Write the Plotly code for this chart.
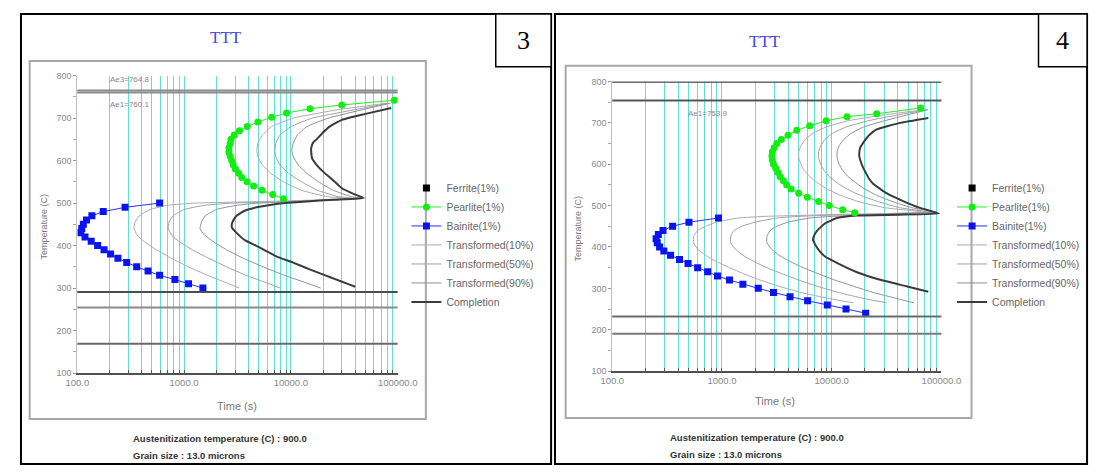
import plotly.graph_objects as go

# page offset produced by the default 8px body margin of the html page
OFF = 8
W, H = 1109 - OFF, 471 - OFF

# ---------------- Panel 3 data ----------------
pearlite_T_3 = [742, 731, 722, 712, 702, 691, 680, 670, 660, 650, 640, 630, 620, 610, 600, 590, 580, 570, 560, 550, 540, 530, 520, 510]
pearlite_t_3 = [93000, 30000, 15100, 9100, 6600, 4900, 3900, 3300, 2950, 2750, 2700, 2630, 2630, 2700, 2790, 2880, 3020, 3240, 3470, 3890, 4470, 5370, 6760, 8510]

bainite_T_3 = [500, 490, 480, 470, 460, 450, 440, 430, 420, 410, 400, 390, 380, 370, 360, 350, 340, 330, 320, 310, 300]
bainite_t_3 = [590, 280, 175, 137, 122, 114, 110, 108, 118, 135, 155, 178, 205, 240, 290, 360, 460, 590, 820, 1100, 1500]

trans_T_3 = [735, 720, 700, 680, 660, 640, 625, 610, 590, 570, 550, 530, 515, 511, 507, 503, 500, 495, 485, 470, 455, 440, 425, 410, 390, 370, 350, 330, 310, 300]
trans10_t_3 = [79000, 28000, 10500, 6600, 5400, 4900, 4800, 4900, 5400, 6500, 8500, 12600, 22000, 35000, 16000, 4000, 1260, 710, 480, 380, 347, 340, 363, 420, 550, 760, 1100, 1660, 2630, 3300]
trans50_t_3 = [82000, 40000, 15800, 10000, 7900, 7200, 7100, 7200, 7900, 9500, 12600, 17800, 28000, 40000, 20000, 7900, 2800, 1580, 1000, 790, 720, 710, 760, 890, 1200, 1700, 2500, 3800, 6300, 7900]
trans90_t_3 = [85000, 47000, 22400, 14100, 11500, 10500, 10200, 10500, 11700, 14100, 18200, 25000, 37000, 45000, 22400, 10000, 5000, 3160, 2000, 1580, 1450, 1410, 1550, 1860, 2500, 3600, 5500, 8700, 14800, 19000]

complete_T_3 = [724, 710, 696, 680, 666, 650, 643, 630, 620, 605, 590, 574, 555, 535, 520, 512, 508, 504, 500, 496, 490, 482, 470, 460, 450, 443, 430, 413, 400, 390, 374, 360, 344, 330, 321, 310, 303]
complete_t_3 = [87000, 50000, 30000, 23000, 20000, 17400, 16200, 15500, 15500, 15800, 17400, 20000, 24500, 30000, 40000, 48000, 25000, 14000, 8900, 6600, 4800, 3700, 3100, 2900, 2800, 2800, 3100, 3700, 4700, 5600, 7400, 10500, 15000, 21000, 26000, 34000, 40000]

hlines_3 = [764.8, 760.1, 291.0, 254.0, 169.0]
hline_colors_3 = ["#8c8c8c", "#8c8c8c", "#4d4d4d", "#8a8a8a", "#6a6a6a"]
hline_labels_3 = ["Ae3=764.8", "Ae1=760.1"]

# ---------------- Panel 4 data ----------------
pearlite_T_4 = [736, 722, 715, 705, 693, 682, 670, 660, 650, 640, 630, 620, 610, 600, 590, 580, 570, 560, 550, 540, 530, 520, 510, 500, 490, 483]
pearlite_t_4 = [64600, 25700, 13800, 8900, 6300, 4800, 4000, 3470, 3160, 2990, 2880, 2850, 2880, 2950, 3090, 3240, 3390, 3630, 3890, 4270, 5000, 6000, 7600, 9500, 12600, 16200]

bainite_T_4 = [470, 460, 450, 440, 430, 420, 410, 400, 390, 380, 370, 360, 350, 340, 330, 320, 310, 300, 290, 280, 270, 260, 250, 240]
bainite_t_4 = [930, 500, 355, 290, 263, 251, 257, 270, 295, 340, 410, 490, 600, 740, 910, 1170, 1550, 2140, 2950, 4170, 6030, 9120, 13500, 20400]

trans_T_4 = [732, 720, 705, 690, 675, 660, 645, 630, 615, 600, 585, 570, 555, 540, 525, 510, 495, 484, 480, 477, 474, 470, 460, 450, 440, 425, 410, 395, 380, 365, 350, 335, 320, 305, 290, 275, 265]
trans10_t_4 = [70800, 31600, 14100, 8900, 6760, 5750, 5250, 5010, 5010, 5250, 5620, 6310, 7410, 9120, 12000, 17400, 30200, 70800, 20000, 6300, 2500, 1410, 890, 710, 600, 550, 550, 600, 710, 890, 1170, 1580, 2240, 3310, 5250, 9550, 15800]
trans50_t_4 = [74100, 41700, 21400, 13500, 10200, 8700, 7940, 7590, 7590, 7940, 8510, 9550, 11200, 13800, 18200, 26300, 41700, 79400, 28200, 10000, 5010, 3160, 2000, 1510, 1290, 1200, 1200, 1320, 1550, 1950, 2570, 3550, 5010, 7410, 11500, 20000, 31600]
trans90_t_4 = [75900, 50100, 30200, 19500, 15100, 12900, 11700, 11200, 11200, 11700, 12600, 14100, 16600, 20000, 25700, 35500, 53700, 89100, 39800, 20000, 10000, 6310, 3980, 3160, 2750, 2570, 2570, 2820, 3310, 4170, 5500, 7590, 10700, 15800, 24000, 39800, 56200]

complete_T_4 = [712, 700, 684, 670, 653, 640, 623, 610, 595, 580, 565, 552, 530, 511, 495, 481, 478, 476, 470, 457, 440, 427, 417, 405, 390, 377, 360, 339, 320, 305, 292]
complete_t_4 = [76000, 42000, 25700, 21900, 19500, 18200, 17800, 18200, 19100, 20400, 21900, 24000, 31600, 44700, 63000, 95000, 40700, 17000, 11200, 8700, 7400, 6900, 6760, 7100, 7760, 8700, 11500, 17000, 28200, 47900, 76000]

hlines_4 = [799.0, 753.9, 232.0, 190.0]
hline_colors_4 = ["#6a6a6a", "#555555", "#6a6a6a", "#7a7a7a"]
hline_labels_4 = ["Ae1=753.9"]

# ---------------- shared ----------------
decade_labels = {100: "100.0", 1000: "1000.0", 10000: "10000.0", 100000: "100000.0"}
y_tick_vals = [100, 200, 300, 400, 500, 600, 700, 800]
legend_names = ["Ferrite(1%)", "Pearlite(1%)", "Bainite(1%)", "Transformed(10%)",
                "Transformed(50%)", "Transformed(90%)", "Completion"]
footer_lines = ["Austenitization temperature (C) : 900.0", "Grain size : 13.0 microns"]
panel_numbers = ["3", "4"]

# log-axis grid positions (1..9 x each decade) with labels at decades only
grid_vals = [d * 10 ** e for e in range(2, 5) for d in range(1, 10)] + [100000]
grid_text = [decade_labels.get(v, "") for v in grid_vals]

GRID = "rgba(60,215,200,0.8)"


def px(x):
    """page pixel x -> paper fraction"""
    return (x - OFF) / W


def py(y):
    """page pixel y -> paper fraction"""
    return 1 - (y - OFF) / H


fig = go.Figure()

panels = [
    dict(xa="x", ya="y", leg="legend",
         pT=pearlite_T_3, pt=pearlite_t_3, bT=bainite_T_3, bt=bainite_t_3,
         tT=trans_T_3, t10=trans10_t_3, t50=trans50_t_3, t90=trans90_t_3,
         cT=complete_T_3, ct=complete_t_3),
    dict(xa="x2", ya="y2", leg="legend2",
         pT=pearlite_T_4, pt=pearlite_t_4, bT=bainite_T_4, bt=bainite_t_4,
         tT=trans_T_4, t10=trans10_t_4, t50=trans50_t_4, t90=trans90_t_4,
         cT=complete_T_4, ct=complete_t_4),
]

for p in panels:
    common = dict(xaxis=p["xa"], yaxis=p["ya"], legend=p["leg"])
    for name, tt, col, rank in [
        (legend_names[3], p["t10"], "#a9a9b8", 4),
        (legend_names[4], p["t50"], "#a0a0a0", 5),
        (legend_names[5], p["t90"], "#8e8e9a", 6),
    ]:
        fig.add_trace(go.Scatter(x=tt, y=p["tT"], mode="lines", name=name,
                                 line=dict(color=col, width=1, shape="spline", smoothing=0.4),
                                 legendrank=rank, **common))
    fig.add_trace(go.Scatter(x=p["ct"], y=p["cT"], mode="lines", name=legend_names[6],
                             line=dict(color="#3a3a3a", width=2, shape="spline", smoothing=0.4),
                             legendrank=7, **common))
    fig.add_trace(go.Scatter(x=[None], y=[None], mode="markers", name=legend_names[0],
                             marker=dict(color="black", size=7, symbol="square"),
                             legendrank=1, **common))
    fig.add_trace(go.Scatter(x=p["pt"], y=p["pT"], mode="lines+markers", name=legend_names[1],
                             line=dict(color="#22ee22", width=1),
                             marker=dict(color="#11ee11", size=7, symbol="circle"),
                             legendrank=2, **common))
    fig.add_trace(go.Scatter(x=p["bt"], y=p["bT"], mode="lines+markers", name=legend_names[2],
                             line=dict(color="#2233ff", width=1),
                             marker=dict(color="#0a14f0", size=7, symbol="square"),
                             legendrank=3, **common))

shapes = []
annotations = []

# reference horizontal lines (positions in data units on the y axis)
for vals, cols, xref, yref in [(hlines_3, hline_colors_3, "x domain", "y"),
                               (hlines_4, hline_colors_4, "x2 domain", "y2")]:
    for v, c in zip(vals, cols):
        shapes.append(dict(type="line", xref=xref, yref=yref, x0=0, x1=1, y0=v, y1=v,
                           line=dict(color=c, width=2)))

lab_font = dict(size=8, color="#888888", family="Arial")
annotations.append(dict(xref="x domain", yref="y", x=0.164, y=hlines_3[0], yshift=11,
                        xanchor="center", yanchor="middle",
                        text=hline_labels_3[0], showarrow=False, font=lab_font))
annotations.append(dict(xref="x domain", yref="y", x=0.164, y=hlines_3[1], yshift=-12,
                        xanchor="center", yanchor="middle",
                        text=hline_labels_3[1], showarrow=False, font=lab_font))
annotations.append(dict(xref="x2 domain", yref="y2", x=0.29, y=hlines_4[1], yshift=-13,
                        xanchor="center", yanchor="middle",
                        text=hline_labels_4[0], showarrow=False, font=lab_font))

# panel outer borders
shapes.append(dict(type="rect", xref="paper", yref="paper", x0=px(9), x1=px(555), y0=py(469), y1=py(9),
                   line=dict(color="black", width=2)))
shapes.append(dict(type="rect", xref="paper", yref="paper", x0=px(559), x1=px(1107), y0=py(469), y1=py(9),
                   line=dict(color="black", width=2)))
# number boxes
shapes.append(dict(type="rect", xref="paper", yref="paper", x0=px(498), x1=px(555), y0=py(63), y1=py(9),
                   line=dict(color="black", width=1.5), fillcolor="white"))
shapes.append(dict(type="rect", xref="paper", yref="paper", x0=px(1057), x1=px(1107), y0=py(63), y1=py(9),
                   line=dict(color="black", width=1.5), fillcolor="white"))
# inner chart frames
shapes.append(dict(type="rect", xref="paper", yref="paper", x0=px(18), x1=px(426), y0=py(423), y1=py(57),
                   line=dict(color="#a8a8a8", width=2), layer="below"))
shapes.append(dict(type="rect", xref="paper", yref="paper", x0=px(570), x1=px(988), y0=py(422), y1=py(62),
                   line=dict(color="#a8a8a8", width=2), layer="below"))


def note(x, y, text, size, color, family="Arial", angle=0, xanchor="center"):
    return dict(xref="paper", yref="paper", x=px(x), y=py(y), text=text, showarrow=False,
                xanchor=xanchor, yanchor="middle", textangle=angle,
                font=dict(size=size, color=color, family=family))


annotations += [
    note(527, 36, panel_numbers[0], 26, "black", "Liberation Serif"),
    note(1082, 36, panel_numbers[1], 26, "black", "Liberation Serif"),
    note(220, 33, "TTT", 17, "#4444ee", "Liberation Serif"),
    note(775, 37, "TTT", 17, "#4444ee", "Liberation Serif"),
    note(33, 226, "Temperature (C)", 9, "#777777", angle=-90),
    note(583, 228, "Temperature (C)", 9, "#777777", angle=-90),
    note(231, 410, "Time (s)", 11, "#777777"),
    note(786, 405, "Time (s)", 11, "#777777"),
]
for x0, y0 in [(122, 443), (675, 442)]:
    for i, line in enumerate(footer_lines):
        annotations.append(note(x0, y0 + 17 * i, "<b>" + line + "</b>", 9.5, "#333333", xanchor="left"))

xaxis_common = dict(type="log", range=[2, 5], tickvals=grid_vals, ticktext=grid_text,
                    tickfont=dict(size=9.5, color="#888888", family="Arial"),
                    showgrid=True, gridcolor=GRID, gridwidth=1,
                    showline=True, linecolor="#505050", linewidth=2,
                    ticks="inside", ticklen=3, tickcolor="#555555", zeroline=False)
yaxis_common = dict(range=[100, 800], tickvals=y_tick_vals,
                    tickfont=dict(size=9, color="#888888", family="Arial"),
                    showgrid=False, zeroline=False, showline=True, linecolor="#c0c0c0", linewidth=1,
                    ticks="outside", ticklen=3, tickcolor="#999999",
                    minor=dict(dtick=50, ticks="outside", ticklen=3, tickcolor="#aaaaaa"))

legend_common = dict(bgcolor="rgba(0,0,0,0)", font=dict(size=10.5, color="#666666", family="Arial"),
                     itemsizing="trace", tracegroupgap=0, xanchor="left", yanchor="top",
                     itemwidth=30)

fig.update_layout(
    width=W, height=H,
    margin=dict(l=0, r=0, t=0, b=0),
    paper_bgcolor="white", plot_bgcolor="white",
    xaxis=dict(domain=[px(67), px(397)], anchor="y", **xaxis_common),
    yaxis=dict(domain=[py(376), py(72)], anchor="x", **yaxis_common),
    xaxis2=dict(domain=[px(618), px(957)], anchor="y2", **xaxis_common),
    yaxis2=dict(domain=[py(374), py(78)], anchor="x2", **yaxis_common),
    legend=dict(x=px(406), y=py(172), **legend_common),
    legend2=dict(x=px(968), y=py(172), **legend_common),
    shapes=shapes,
    annotations=annotations,
    showlegend=True,
)

fig.write_html("out.html", config={"displayModeBar": False})
